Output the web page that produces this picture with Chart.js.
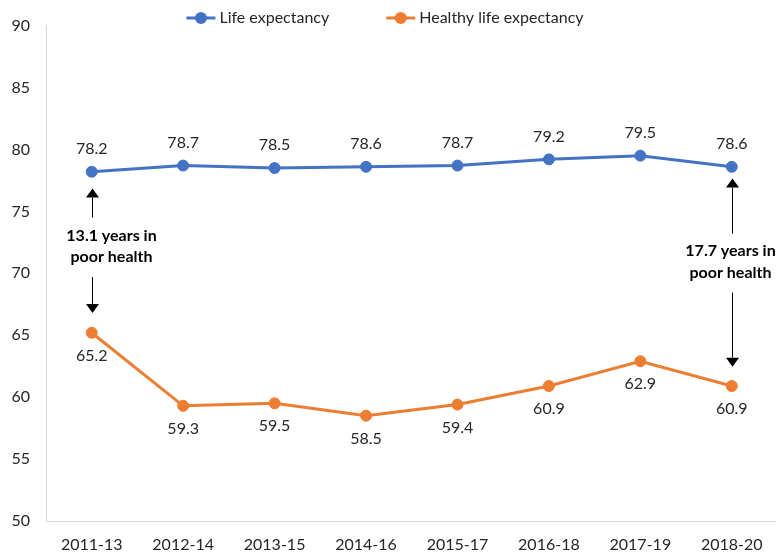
<!DOCTYPE html>
<html>
<head>
<meta charset="utf-8">
<script src="https://cdn.jsdelivr.net/npm/chart.js@4.4.1/dist/chart.umd.min.js"></script>
<style>
  html, body { margin: 0; padding: 0; background: #fff; overflow: hidden; }
  #wrap { width: 784px; height: 554px; }
</style>
</head>
<body>
<div id="wrap"><canvas id="myChart"></canvas></div>
<script>
// Data
const periods = ['2011-13', '2012-14', '2013-15', '2014-16', '2015-17', '2016-18', '2017-19', '2018-20'];
const lifeExpectancy = [78.2, 78.7, 78.5, 78.6, 78.7, 79.2, 79.5, 78.6];
const healthyLifeExpectancy = [65.2, 59.3, 59.5, 58.5, 59.4, 60.9, 62.9, 60.9];
const yMin = 50;
const yMax = 90;
const yStep = 5;

const blue = '#4472C4';
const orange = '#ED7D31';
const textColor = '#262626';
const fontFamily = 'Lato, "Open Sans", sans-serif';

// gap notes, positioned in data units on the value axis
const gapNotes = [
    { index: 0, dx: 19, lines: ['13.1 years in', 'poor health'], textAt: [73.05, 71.35],
      up: [74.5, 76.85], down: [69.7, 66.8] },
    { index: 7, dx: -2, lines: ['17.7 years in', 'poor health'], textAt: [71.85, 70.0],
      up: [73.2, 77.65], down: [68.45, 62.45] }
];

// value labels: above the blue line, below the orange one
const labelOffsets = [-23, 23];
const valueLabels = {
    id: 'valueLabels',
    afterDatasetsDraw(chart) {
        const ctx = chart.ctx;
        ctx.save();
        ctx.font = '16px ' + fontFamily;
        ctx.fillStyle = textColor;
        ctx.textAlign = 'center';
        ctx.textBaseline = 'middle';
        chart.data.datasets.forEach((ds, i) => {
            const meta = chart.getDatasetMeta(i);
            meta.data.forEach((pt, j) => {
                ctx.fillText(ds.data[j].toFixed(1), pt.x, pt.y + labelOffsets[i]);
            });
        });
        ctx.restore();
    }
};

function arrow(ctx, x, fromY, tipY) {
    const dir = tipY < fromY ? -1 : 1;
    const head = 9;
    ctx.beginPath();
    ctx.moveTo(x, fromY);
    ctx.lineTo(x, tipY - dir * head);
    ctx.stroke();
    ctx.beginPath();
    ctx.moveTo(x, tipY);
    ctx.lineTo(x - 6.5, tipY - dir * head);
    ctx.lineTo(x + 6.5, tipY - dir * head);
    ctx.closePath();
    ctx.fill();
}

const gapArrows = {
    id: 'gapArrows',
    afterDraw(chart) {
        const ctx = chart.ctx;
        const xs = chart.scales.x;
        const ys = chart.scales.y;
        ctx.save();
        ctx.strokeStyle = '#000';
        ctx.fillStyle = '#000';
        ctx.lineWidth = 1;
        gapNotes.forEach(n => {
            const x = Math.round(xs.getPixelForValue(n.index)) + 0.5;
            arrow(ctx, x, ys.getPixelForValue(n.up[0]), ys.getPixelForValue(n.up[1]));
            arrow(ctx, x, ys.getPixelForValue(n.down[0]), ys.getPixelForValue(n.down[1]));
            ctx.font = 'bold 16px ' + fontFamily;
            ctx.textAlign = 'center';
            ctx.textBaseline = 'middle';
            n.lines.forEach((t, k) => {
                ctx.fillText(t, x + n.dx, ys.getPixelForValue(n.textAt[k]));
            });
        });
        ctx.restore();
    }
};

// legend drawn as line + marker like the original
const topLegend = {
    id: 'topLegend',
    afterDraw(chart) {
        const ctx = chart.ctx;
        ctx.save();
        ctx.font = '16px ' + fontFamily;
        ctx.textBaseline = 'middle';
        ctx.textAlign = 'left';
        const sets = chart.data.datasets;
        const markW = 29, gap = 4, itemGap = 57;
        let total = 0;
        sets.forEach((ds, i) => {
            total += markW + gap + ctx.measureText(ds.label).width;
            if (i < sets.length - 1) total += itemGap;
        });
        let x = chart.width / 2 - 7 - total / 2;
        const y = 18;
        sets.forEach(ds => {
            ctx.strokeStyle = ds.borderColor;
            ctx.lineWidth = 3;
            ctx.beginPath();
            ctx.moveTo(x, y);
            ctx.lineTo(x + markW, y);
            ctx.stroke();
            ctx.fillStyle = ds.borderColor;
            ctx.beginPath();
            ctx.arc(x + markW / 2, y, 6, 0, Math.PI * 2);
            ctx.fill();
            x += markW + gap;
            ctx.fillStyle = textColor;
            ctx.fillText(ds.label, x, y);
            x += ctx.measureText(ds.label).width + itemGap;
        });
        ctx.restore();
    }
};

document.addEventListener('DOMContentLoaded', function () {
    const ctx = document.getElementById('myChart').getContext('2d');

    new Chart(ctx, {
        type: 'line',
        data: {
            labels: periods,
            datasets: [{
                label: 'Life expectancy',
                data: lifeExpectancy,
                borderColor: blue,
                backgroundColor: blue,
                borderWidth: 3,
                pointRadius: 5.5,
                pointBorderWidth: 1,
                tension: 0
            }, {
                label: 'Healthy life expectancy',
                data: healthyLifeExpectancy,
                borderColor: orange,
                backgroundColor: orange,
                borderWidth: 3,
                pointRadius: 5.5,
                pointBorderWidth: 1,
                tension: 0
            }]
        },
        options: {
            responsive: true,
            maintainAspectRatio: false,
            animation: false,
            layout: { padding: { top: 25, left: 12, right: 3, bottom: 0 } },
            plugins: {
                legend: { display: false },
                tooltip: { enabled: false }
            },
            scales: {
                x: {
                    offset: true,
                    grid: { display: false, drawTicks: false },
                    border: { display: true, color: '#d9d9d9', width: 1 },
                    ticks: { color: textColor, font: { family: fontFamily, size: 16 }, padding: 14, maxRotation: 0 },
                    afterFit(scale) { scale.height = 33; }
                },
                y: {
                    min: yMin,
                    max: yMax,
                    grid: { display: false, drawTicks: false },
                    border: { display: true, color: '#d9d9d9', width: 1 },
                    ticks: { stepSize: yStep, color: textColor, font: { family: fontFamily, size: 16 }, padding: 16 },
                    afterFit(scale) { scale.width = 34; }
                }
            }
        },
        plugins: [valueLabels, gapArrows, topLegend]
    });
});
</script>
</body>
</html>
